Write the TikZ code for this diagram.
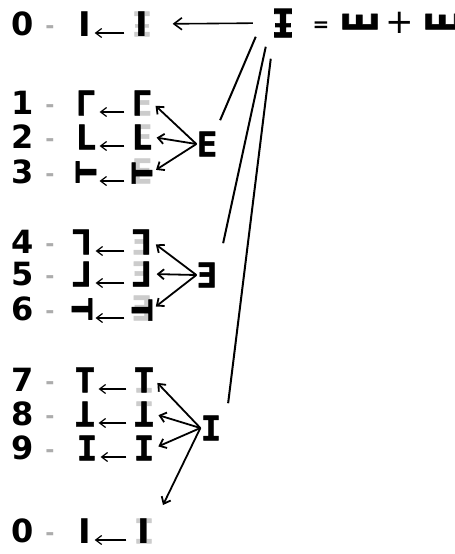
\documentclass[tikz,border=0pt]{standalone}
\usepackage{fontspec}
\setmainfont{DejaVu Sans}
\newfontfamily\glyphs[FakeBold=1.5]{DejaVu Sans Mono}
\usetikzlibrary{arrows.meta,calc}

% whole sign in grey, the black part on top of it
\newcommand{\faded}[2]{\ooalign{\hfil\textcolor{gray!40}{#1}\hfil\cr\hfil#2\hfil\cr}}
\newcommand{\stem}{{\rmfamily I}}
\newcommand{\midL}{\rotatebox[origin=c]{90}{\scalebox{1.2}[0.82]{T}}}
\newcommand{\midR}{\rotatebox[origin=c]{-90}{\scalebox{1.2}[0.82]{T}}}
\newcommand{\botT}{\scalebox{1}[-1]{T}}
\newcommand{\topR}{\rotatebox[origin=c]{180}{L}}
\newcommand{\botR}{\reflectbox{L}}
\newcommand{\revE}{\reflectbox{E}}
\newcommand{\sideE}{\scalebox{1.4}[1]{\rotatebox[origin=c]{90}{E}}}

\begin{document}
\begin{tikzpicture}[x=0.5pt,y=-0.5pt,
  every node/.style={inner sep=0pt},
  digit/.style={font=\bfseries\fontsize{16}{19}\selectfont},
  minus/.style={font=\bfseries\fontsize{11}{11}\selectfont,text=gray!65},
  gl/.style={font=\glyphs\bfseries\fontsize{17}{20}\selectfont},
  rowarrow/.style={-{Straight Barb[length=3pt,width=4.5pt]},line width=0.6pt},
  grp/.style={-{Straight Barb[length=3pt,width=5pt]},line width=0.9pt},
  link/.style={line width=1pt}]

\useasboundingbox (0,0) rectangle (455,554);

% Numbers and dashes
\foreach \i/\d/\y in {0/0/24,1/1/103,2/2/137,3/3/172,4/4/242,5/5/274,6/6/309,7/7/380,8/8/414,9/9/448,10/0/531}
{
\node[digit] (d\i) at (23,\y) {\d};
\node[minus] (m\i) at (50,\y+6) {-};
}

% Signs: part on the left, full sign on the right
\node[gl] (l0) at (85,24) {\stem};
\node[gl] (r0) at (142,24) {\faded{Ɨ}{\stem}};
\node[gl] (l1) at (86,103) {Γ};
\node[gl] (r1) at (142,103) {\faded{E}{Γ}};
\node[gl] (l2) at (86,137) {L};
\node[gl] (r2) at (142,137) {\faded{E}{L}};
\node[gl] (l3) at (86,172) {\midL};
\node[gl] (r3) at (142,172) {\faded{E}{\midL}};
\node[gl] (l4) at (82,242) {\topR};
\node[gl] (r4) at (142,242) {\faded{\revE}{\topR}};
\node[gl] (l5) at (82,274) {\botR};
\node[gl] (r5) at (142,274) {\faded{\revE}{\botR}};
\node[gl] (l6) at (82,309) {\midR};
\node[gl] (r6) at (142,309) {\faded{\revE}{\midR}};
\node[gl] (l7) at (85,380) {T};
\node[gl] (r7) at (144,380) {\faded{I}{T}};
\node[gl] (l8) at (85,414) {\botT};
\node[gl] (r8) at (144,414) {\faded{\scalebox{1}[-1]{I}}{\botT}};
\node[gl] (l9) at (87,448) {I};
\node[gl] (r9) at (144,448) {I};
\node[gl] (l10) at (85,531) {\stem};
\node[gl] (r10) at (144,531) {\faded{I}{\stem}};

% Group signs
\node[gl] (gE) at (207,144) {E};
\node[gl] (gR) at (207,275) {\revE};
\node[gl] (gI) at (211,428) {I};
\coordinate (e) at (163,505);

% Top sign and its sum
\node[gl,scale=1.15] (tp) at (283,23) {Ɨ};
\node[font=\bfseries\fontsize{10}{10}\selectfont] (eq) at (321,27) {=};
\node[gl] (x1) at (360,23) {\sideE};
\node[font=\fontsize{17}{17}\selectfont] (pl) at (400,23) {+};
\node[gl] (x2) at (443,23) {\sideE};

% Small arrows in each row
\foreach \i in {0,...,10}
{
\draw[rowarrow,shorten <=3.5pt,shorten >=1.5pt] ([yshift=-4.5pt]r\i.west) -- ([yshift=-4.5pt]l\i.east);
}

% Arrows from the group signs
\foreach \i in {1,2,3}
\draw[grp,shorten >=2pt] (gE.west) -- (r\i.east);
\foreach \i in {4,5,6}
\draw[grp,shorten >=2pt] (gR.west) -- (r\i.east);
\foreach \i in {7,8,9}
\draw[grp,shorten >=2pt] (gI.west) -- (r\i.east);
\draw[grp] (gI.west) -- (e);

% Top arrow and the lines down to the groups
\draw[-{Straight Barb[length=4pt,width=6pt]},line width=0.8pt,shorten <=9pt,shorten >=10pt] (tp.west) -- (r0.east);
\draw[link] ($(tp.south west)+(-15,-1)$) -- ($(gE.north east)+(2.5,-11)$);
\draw[link] ($(tp.south west)+(-5,9)$) -- ($(gR.north east)+(5.5,-19)$);
\draw[link] ($(tp.south west)+(0,21)$) -- ($(gI.north east)+(6.5,-12)$);

\end{tikzpicture}
\end{document}
